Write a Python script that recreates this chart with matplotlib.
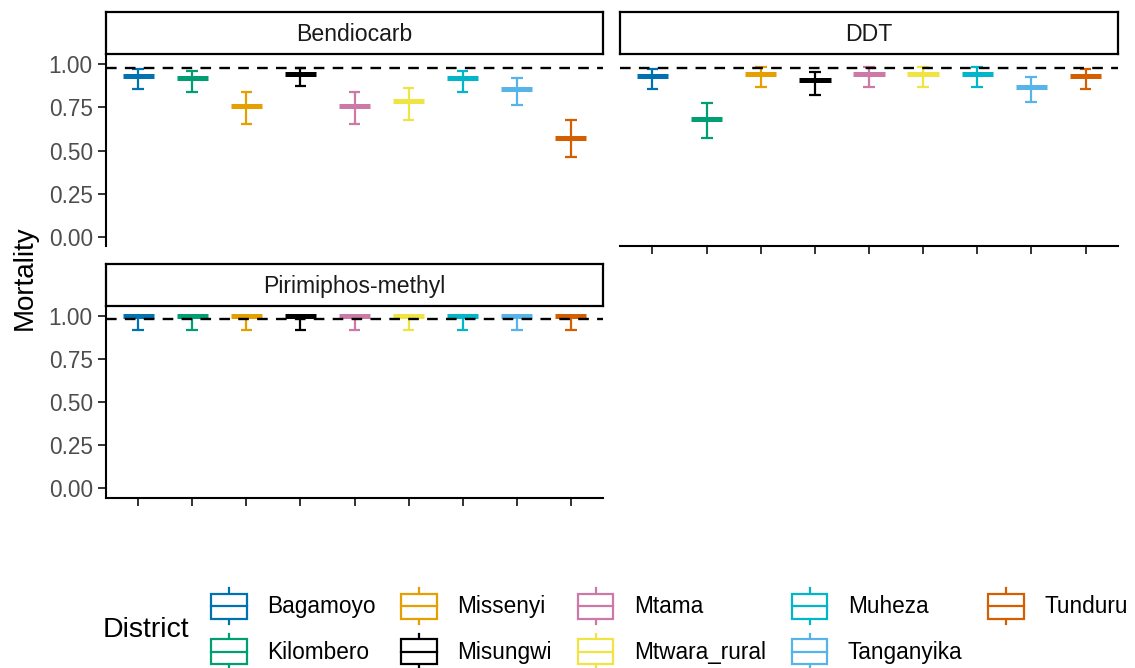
import numpy as np
import matplotlib
matplotlib.use("Agg")
import matplotlib.pyplot as plt
from matplotlib.legend_handler import HandlerBase
from matplotlib.patches import Rectangle
from matplotlib.lines import Line2D

plt.rcParams['font.family'] = ['Liberation Sans', 'DejaVu Sans']

# --- data ---
districts = ["Bagamoyo", "Kilombero", "Missenyi", "Misungwi", "Mtama",
             "Mtwara_rural", "Muheza", "Tanganyika", "Tunduru"]
colors = ["#0072B2", "#009E73", "#E69F00", "#000000", "#CC79A7",
          "#F0E442", "#00B6C8", "#56B4E9", "#D55E00"]
insecticides = ["Bendiocarb", "DDT", "Pirimiphos-methyl"]

bendiocarb_mean = [0.935, 0.922, 0.760, 0.947, 0.760, 0.785, 0.922, 0.859, 0.571]
bendiocarb_low = [0.855, 0.840, 0.653, 0.872, 0.653, 0.680, 0.840, 0.766, 0.463]
bendiocarb_high = [0.974, 0.964, 0.840, 0.979, 0.838, 0.863, 0.964, 0.920, 0.676]

ddt_mean = [0.935, 0.684, 0.947, 0.909, 0.947, 0.947, 0.947, 0.870, 0.935]
ddt_low = [0.855, 0.573, 0.870, 0.825, 0.870, 0.870, 0.870, 0.779, 0.855]
ddt_high = [0.974, 0.777, 0.983, 0.954, 0.983, 0.983, 0.983, 0.930, 0.974]

pm_mean = [1.0, 1.0, 1.0, 1.0, 1.0, 1.0, 1.0, 1.0, 1.0]
pm_low = [0.915, 0.915, 0.915, 0.915, 0.915, 0.915, 0.915, 0.915, 0.915]
pm_high = [1.0, 1.0, 1.0, 1.0, 1.0, 1.0, 1.0, 1.0, 1.0]

threshold = 0.98
yticks = [0.0, 0.25, 0.5, 0.75, 1.0]

series = {
    "Bendiocarb": (bendiocarb_mean, bendiocarb_low, bendiocarb_high),
    "DDT": (ddt_mean, ddt_low, ddt_high),
    "Pirimiphos-methyl": (pm_mean, pm_low, pm_high),
}

W, H = 1135, 668
FS = 16.3


def box(l, t, r, b):
    return [l / W, 1 - b / H, (r - l) / W, (b - t) / H]


# panel rect, strip rect, draw y axis, draw x axis
layout = {
    "Bendiocarb": (box(106, 55, 603, 246), box(106, 12, 603, 54), True, False),
    "DDT": (box(620, 55, 1118, 246), box(620, 12, 1118, 54), False, True),
    "Pirimiphos-methyl": (box(106, 306, 603, 498), box(106, 264, 603, 306), True, True),
}

fig = plt.figure(figsize=(W / 100, H / 100), dpi=100)

x = np.arange(1, len(districts) + 1)
for name in insecticides:
    prect, srect, show_y, show_x = layout[name]
    mean, low, high = (np.array(v) for v in series[name])

    ax = fig.add_axes(prect)
    ax.set_xlim(0.4, len(districts) + 0.6)
    ax.set_ylim(-0.055, 1.055)

    ax.vlines(x, low, high, colors=colors, lw=1.6, zorder=2)
    ax.hlines(low, x - 0.11, x + 0.11, colors=colors, lw=1.6, zorder=2)
    ax.hlines(high, x - 0.11, x + 0.11, colors=colors, lw=1.6, zorder=2)
    ax.hlines(mean, x - 0.29, x + 0.29, colors=colors, lw=3.6, zorder=2)
    ax.axhline(threshold, color="black", lw=1.7, ls=(0, (4.5, 3.5)), zorder=3)

    for s in ["top", "right"]:
        ax.spines[s].set_visible(False)
    ax.spines["left"].set_visible(show_y)
    ax.spines["bottom"].set_visible(show_x)
    for s in ["left", "bottom"]:
        ax.spines[s].set_linewidth(1.5)

    if show_y:
        ax.set_yticks(yticks)
        ax.set_yticklabels([f"{t:.2f}" for t in yticks])
    else:
        ax.set_yticks([])
    if show_x:
        ax.set_xticks(x)
        ax.set_xticklabels([])
    else:
        ax.set_xticks([])
    ax.tick_params(length=5.5, width=1.4, color="#333333", labelsize=FS,
                   labelcolor="#4D4D4D", pad=4)

    sax = fig.add_axes(srect)
    sax.set_xticks([])
    sax.set_yticks([])
    for s in sax.spines.values():
        s.set_linewidth(1.6)
    sax.text(0.5, 0.47, name, ha="center", va="center", fontsize=FS + 0.3,
             color="#1A1A1A", transform=sax.transAxes)

fig.text(25 / W, 1 - 278 / H, "Mortality", rotation=90, ha="center",
         va="center", fontsize=20)


class CrossbarKey(HandlerBase):
    def create_artists(self, legend, orig_handle, xdescent, ydescent,
                       width, height, fontsize, trans):
        c = orig_handle.get_color()
        x0, y0 = -xdescent, -ydescent
        xm = x0 + width / 2
        b0, b1 = y0 + height * 0.215, y0 + height * 0.785
        rect = Rectangle((x0, b0), width, b1 - b0, facecolor="white",
                         edgecolor=c, lw=1.6, transform=trans)
        mid = Line2D([x0, x0 + width], [(b0 + b1) / 2] * 2, color=c, lw=1.6,
                     transform=trans)
        w1 = Line2D([xm, xm], [y0 + height * 0.09, b0], color=c, lw=1.6,
                    transform=trans)
        w2 = Line2D([xm, xm], [b1, y0 + height * 0.91], color=c, lw=1.6,
                    transform=trans)
        return [w1, w2, rect, mid]


handles = [Line2D([], [], color=c) for c in colors]
fig.legend(handles, districts, handler_map={Line2D: CrossbarKey()}, ncol=5,
           loc="center left", bbox_to_anchor=(211 / W, 1 - 629 / H),
           frameon=False, fontsize=FS, handlelength=1.57, handleheight=2.61,
           handletextpad=0.9, columnspacing=1.15, labelspacing=0.08,
           borderpad=0, borderaxespad=0)
fig.text(103 / W, 1 - 630 / H, "District", ha="left", va="center", fontsize=20.5)

fig.savefig("out.png", dpi=100)
